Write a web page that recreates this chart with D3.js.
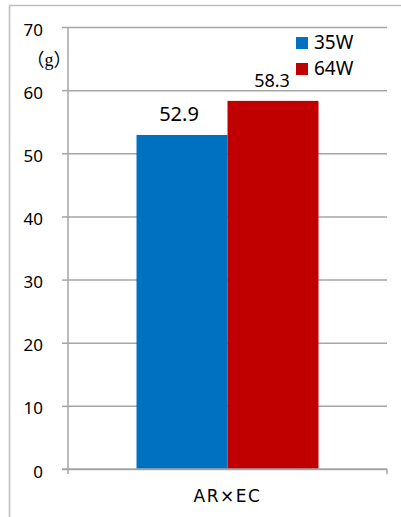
<!DOCTYPE html>
<html><head><meta charset="utf-8">
<script src="https://cdn.jsdelivr.net/npm/d3@7"></script>
<style>html,body{margin:0;padding:0;background:#fff;}svg{display:block;}</style>
</head><body>
<script>
const categories = ["AR×EC"];
const seriesNames = ["35W", "64W"];
const values35W = [52.9];
const values64W = [58.3];
const valueLabels35W = ["52.9"];
const valueLabels64W = ["58.3"];
const yTicks = [0, 10, 20, 30, 40, 50, 60, 70];
const unitLabel = "（g）";
const colors = ["#0070c0", "#c00000"];

(function () {
const W = 401, H = 517;
const svg = d3.select("body").append("svg").attr("width", W).attr("height", H);

// outer chart border (cropped on right/bottom)
svg.append("path").attr("d", "M9.5,520 V5.5 H410").attr("fill", "none")
  .attr("stroke", "#bdbdbd").attr("stroke-width", 1.5);

const pLeft = 68, pRight = 387, pTop = 27, pBottom = 469;
const y = d3.scaleLinear().domain([0, 70]).range([pBottom, pTop]);
const x0 = d3.scaleBand().domain(categories).range([pLeft, pRight]).padding(0);
const x1 = d3.scaleBand().domain(seriesNames).range([0, x0.bandwidth()]).paddingInner(0).paddingOuter(0.753);

// gridlines
const gy = svg.append("g").attr("transform", `translate(${pLeft},0)`)
  .call(d3.axisLeft(y).tickValues(yTicks).tickSize(-(pRight - pLeft)).tickFormat(""));
gy.select(".domain").remove();
gy.selectAll(".tick line").attr("stroke", "#a6a6a6").attr("stroke-width", 1.5);
// y tick marks
svg.append("g").attr("transform", `translate(${pLeft},0)`)
  .call(d3.axisLeft(y).tickValues(yTicks).tickSize(6).tickFormat(""))
  .call(g => g.select(".domain").remove())
  .selectAll(".tick line").attr("stroke", "#a6a6a6").attr("stroke-width", 1.5);
// y tick labels
svg.append("g").selectAll("text").data(yTicks).join("text")
  .attr("x", 43).attr("y", d => y(d) + 2).attr("text-anchor", "end")
  .attr("dominant-baseline", "central")
  .attr("font-family", "'Noto Sans', sans-serif").attr("font-size", 17).attr("fill", "#000")
  .text(d => d);

// bars
const data = seriesNames.map((s, i) => ({ s, v: i === 0 ? values35W[0] : values64W[0], lab: i === 0 ? valueLabels35W[0] : valueLabels64W[0], i }));
svg.append("g").selectAll("rect").data(data).join("rect")
  .attr("x", d => x0(categories[0]) + x1(d.s))
  .attr("width", x1.bandwidth())
  .attr("y", d => y(d.v))
  .attr("height", d => y(0) - y(d.v))
  .attr("fill", (d, i) => colors[i]);

// axes lines
svg.append("line").attr("x1", pLeft).attr("x2", pLeft).attr("y1", pTop).attr("y2", pBottom + 5)
  .attr("stroke", "#a6a6a6").attr("stroke-width", 1.5);
svg.append("line").attr("x1", pLeft - 6).attr("x2", pRight).attr("y1", pBottom).attr("y2", pBottom)
  .attr("stroke", "#a6a6a6").attr("stroke-width", 1.5);
svg.append("line").attr("x1", pRight).attr("x2", pRight).attr("y1", pBottom).attr("y2", pBottom + 5)
  .attr("stroke", "#a6a6a6").attr("stroke-width", 1.5);

// value labels
const labelSizes = [20, 18];
const labelDx = [-3, -1];
svg.append("g").selectAll("text").data(data).join("text")
  .attr("x", (d, i) => x0(categories[0]) + x1(d.s) + x1.bandwidth() / 2 + labelDx[i])
  .attr("y", d => y(d.v) - 14)
  .attr("text-anchor", "middle")
  .attr("font-family", "'Noto Sans', sans-serif").attr("font-size", (d, i) => labelSizes[i]).attr("fill", "#000")
  .text(d => d.lab);

// category label
svg.append("text").attr("x", x0(categories[0]) + x0.bandwidth() / 2).attr("y", 502)
  .attr("text-anchor", "middle").attr("letter-spacing", 1.5)
  .attr("font-family", "'DejaVu Sans', sans-serif").attr("font-size", 17).attr("fill", "#000")
  .text(categories[0]);

// unit label
svg.append("text").attr("x", 49).attr("y", 66).attr("text-anchor", "middle").attr("fill", "#000")
  .attr("font-size", 18).attr("font-family", "'Liberation Serif', 'Noto Sans CJK JP', serif")
  .text(unitLabel);

// legend
const lg = svg.append("g").selectAll("g").data(seriesNames).join("g")
  .attr("transform", (d, i) => `translate(296,${37 + i * 26})`);
lg.append("rect").attr("width", 12).attr("height", 12).attr("fill", (d, i) => colors[i]);
lg.append("text").attr("x", 18).attr("y", 12)
  .attr("font-family", "'Noto Sans', sans-serif").attr("font-size", 19).attr("fill", "#000")
  .text(d => d);
})();
</script>
</body></html>
